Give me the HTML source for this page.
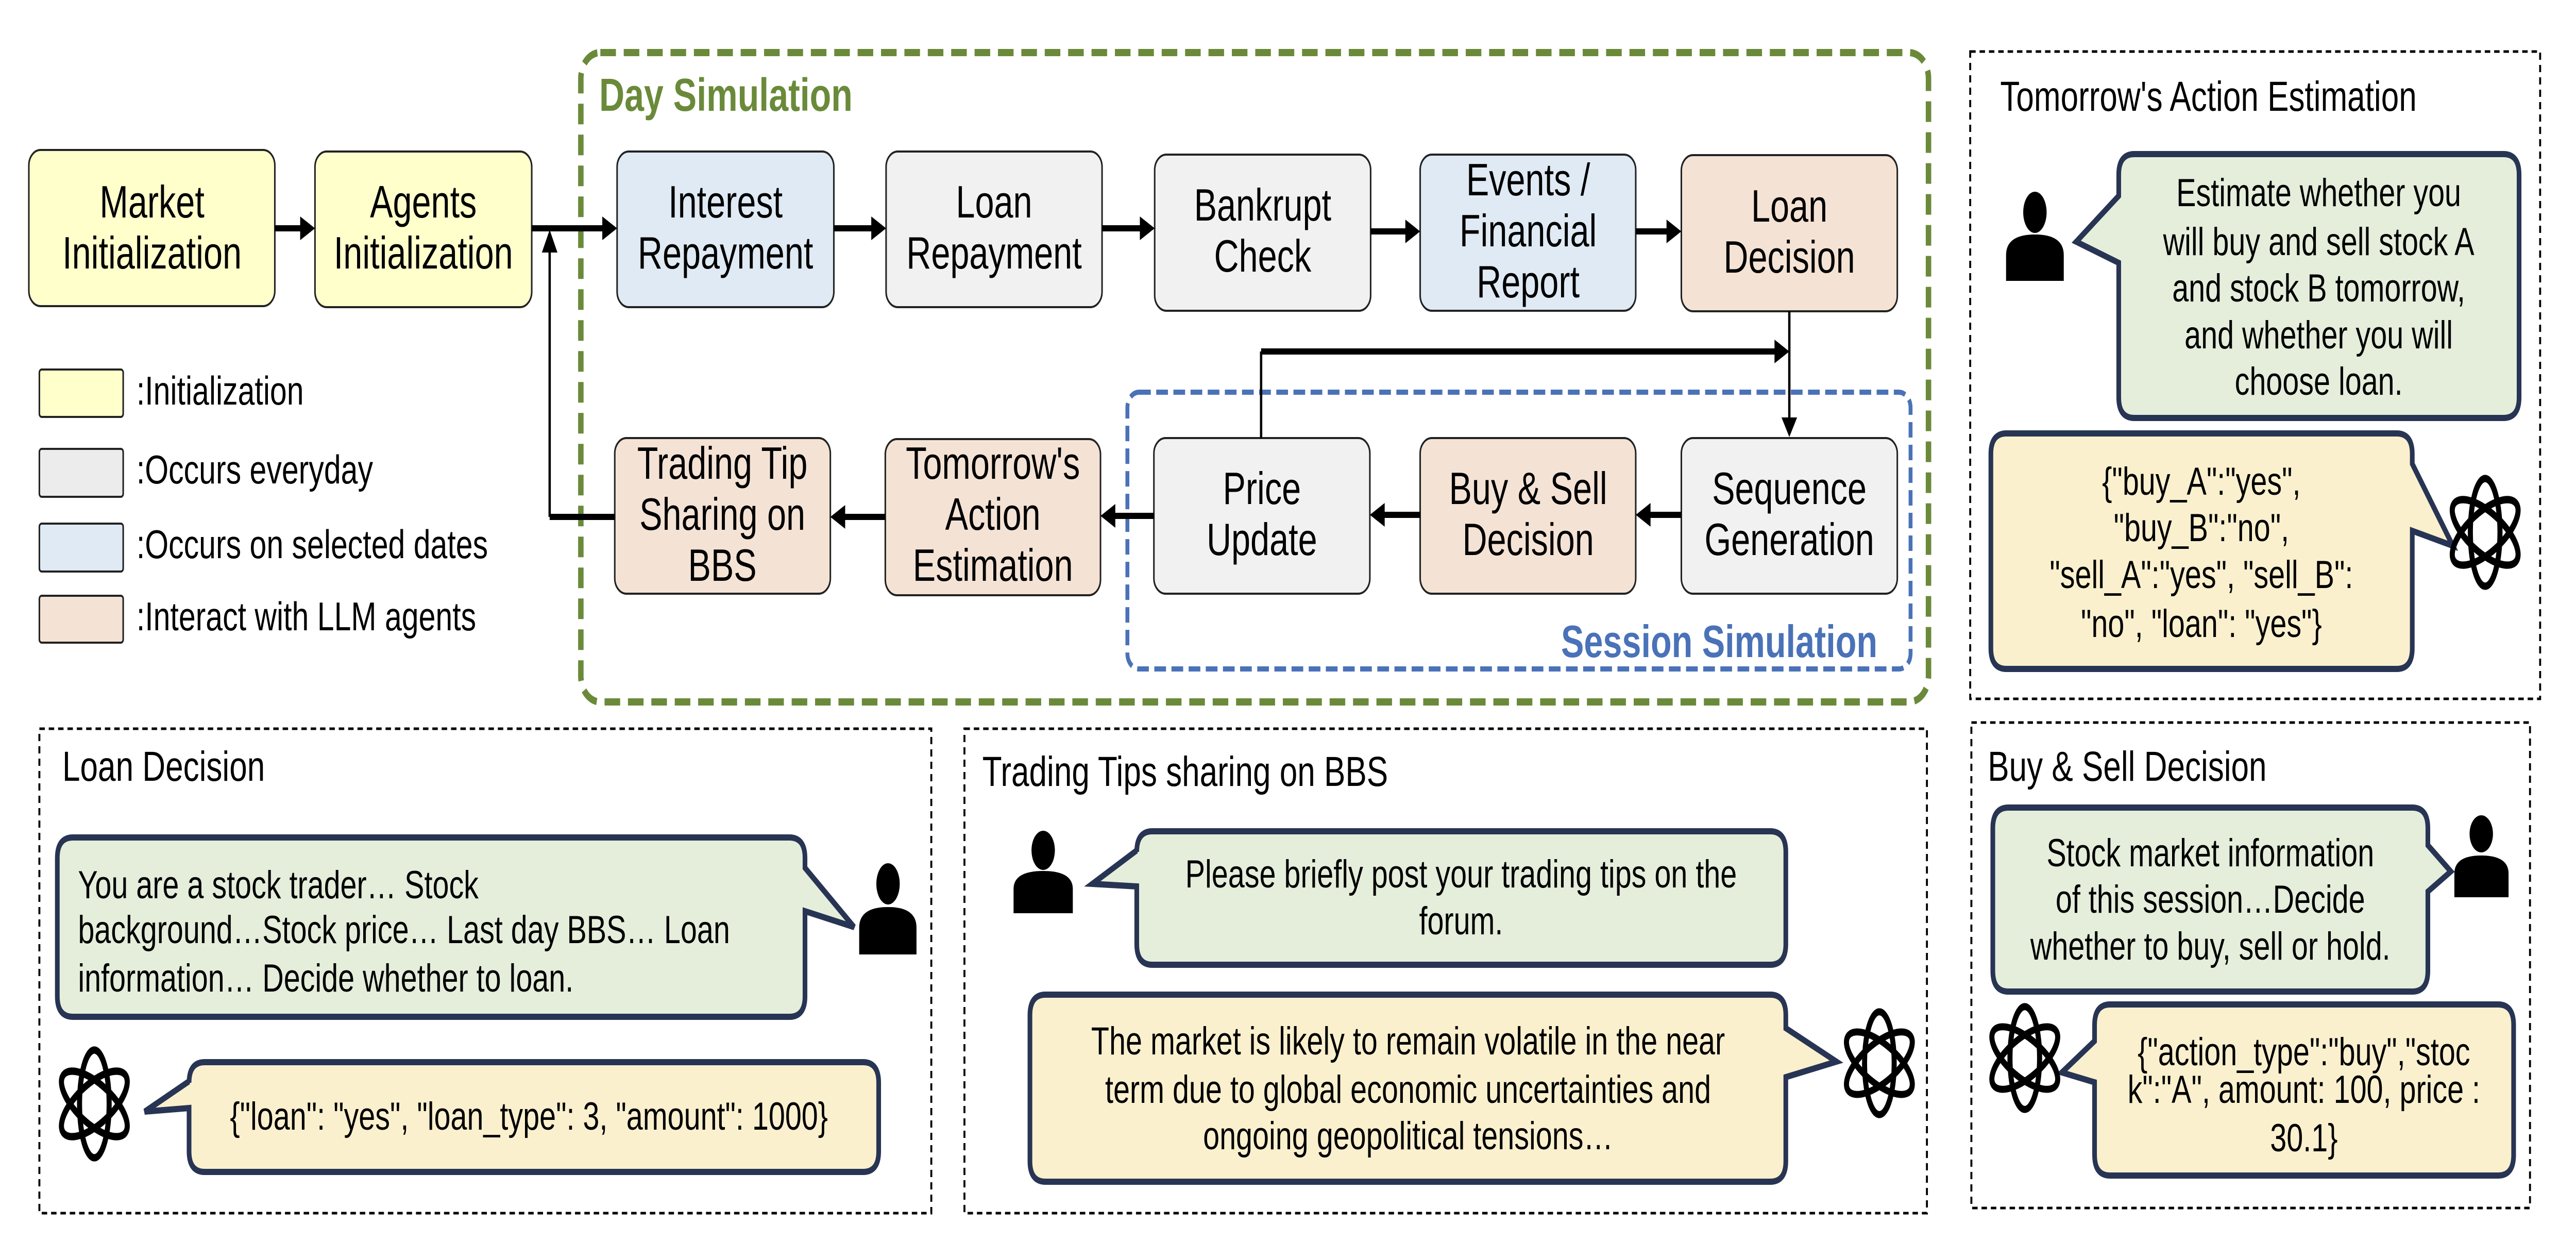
<!DOCTYPE html>
<html><head><meta charset="utf-8"><style>
html,body{margin:0;padding:0;background:#fff;width:100%;height:100%;overflow:hidden;}
svg{display:block;width:100vw;height:100vh;font-family:"Liberation Sans",sans-serif;}
</style></head><body>
<svg viewBox="0 0 6608 2441" preserveAspectRatio="none" xmlns="http://www.w3.org/2000/svg">
<defs>
<g id="gpt" fill="none" stroke="#000" stroke-width="13">
<ellipse cx="0" cy="0" rx="38" ry="95" transform="rotate(0)"/>
<ellipse cx="0" cy="0" rx="38" ry="95" transform="rotate(60)"/>
<ellipse cx="0" cy="0" rx="38" ry="95" transform="rotate(120)"/>
</g>
</defs>

<rect x="1490" y="102" width="3457" height="1260" rx="50" fill="none" stroke="#6a8a3a" stroke-width="14" stroke-dasharray="40 20"/>
<text x="1537" y="215" font-size="90" font-weight="bold" fill="#6a8a3a">Day Simulation</text>
<rect x="2892" y="761" width="2009" height="537" rx="30" fill="none" stroke="#4a72b8" stroke-width="10" stroke-dasharray="30 14"/>
<text x="4816" y="1275" font-size="88" font-weight="bold" fill="#4a72b8" text-anchor="end">Session Simulation</text>

<g stroke="#222" stroke-width="4">
<rect x="74" y="291" width="631" height="303" rx="30" fill="#ffffcc"/>
<rect x="808" y="294" width="556" height="302" rx="30" fill="#ffffcc"/>
<rect x="1583" y="294" width="556" height="302" rx="30" fill="#dfeaf4"/>
<rect x="2273" y="294" width="554" height="302" rx="30" fill="#f1f1f1"/>
<rect x="2962" y="300" width="554" height="303" rx="30" fill="#f1f1f1"/>
<rect x="3643" y="300" width="553" height="303" rx="30" fill="#dfeaf4"/>
<rect x="4313" y="301" width="554" height="303" rx="30" fill="#f4e3d5"/>
<rect x="1577" y="850" width="553" height="302" rx="30" fill="#f4e3d5"/>
<rect x="2271" y="852" width="552" height="303" rx="30" fill="#f4e3d5"/>
<rect x="2960" y="850" width="554" height="302" rx="30" fill="#f1f1f1"/>
<rect x="3643" y="850" width="553" height="302" rx="30" fill="#f4e3d5"/>
<rect x="4313" y="850" width="554" height="302" rx="30" fill="#f1f1f1"/>
<rect x="101" y="717" width="215" height="92" rx="6" fill="#ffffcc"/>
<rect x="101" y="871" width="215" height="93" rx="6" fill="#ececec"/>
<rect x="101" y="1016" width="215" height="93" rx="6" fill="#dfeaf4"/>
<rect x="101" y="1156" width="215" height="91" rx="6" fill="#f4e3d5"/>
</g>

<g font-size="88" text-anchor="middle" fill="#000">
<text x="390" y="422">Market</text><text x="390" y="521">Initialization</text>
<text x="1086" y="422">Agents</text><text x="1086" y="521">Initialization</text>
<text x="1861" y="422">Interest</text><text x="1861" y="521">Repayment</text>
<text x="2550" y="422">Loan</text><text x="2550" y="521">Repayment</text>
<text x="3239" y="428">Bankrupt</text><text x="3239" y="527">Check</text>
<text x="3920" y="379">Events /</text><text x="3920" y="478">Financial</text><text x="3920" y="577">Report</text>
<text x="4590" y="430">Loan</text><text x="4590" y="529">Decision</text>
<text x="1853" y="929">Trading Tip</text><text x="1853" y="1028">Sharing on</text><text x="1853" y="1127">BBS</text>
<text x="2547" y="929">Tomorrow's</text><text x="2547" y="1028">Action</text><text x="2547" y="1127">Estimation</text>
<text x="3237" y="978">Price</text><text x="3237" y="1077">Update</text>
<text x="3920" y="978">Buy &amp; Sell</text><text x="3920" y="1077">Decision</text>
<text x="4590" y="978">Sequence</text><text x="4590" y="1077">Generation</text>
</g>
<g font-size="78" fill="#000">
<text x="350" y="785">:Initialization</text>
<text x="350" y="938">:Occurs everyday</text>
<text x="350" y="1083">:Occurs on selected dates</text>
<text x="350" y="1223">:Interact with LLM agents</text>
</g>

<g stroke="#000" stroke-width="12" fill="none">
<line x1="705" y1="443" x2="780" y2="443"/>
<line x1="1364" y1="443" x2="1555" y2="443"/>
<line x1="2139" y1="443" x2="2245" y2="443"/>
<line x1="2827" y1="443" x2="2934" y2="443"/>
<line x1="3516" y1="449" x2="3615" y2="449"/>
<line x1="4196" y1="449" x2="4285" y2="449"/>
<line x1="3235" y1="682" x2="4562" y2="682"/>
<line x1="4313" y1="999" x2="4224" y2="999"/>
<line x1="3643" y1="999" x2="3542" y2="999"/>
<line x1="2960" y1="1001" x2="2851" y2="1001"/>
<line x1="2271" y1="1003" x2="2158" y2="1003"/>
<line x1="1577" y1="1003" x2="1410" y2="1003"/>
</g>
<g stroke="#000" stroke-width="6" fill="none">
<line x1="4590" y1="604" x2="4590" y2="820"/>
<line x1="3235" y1="682" x2="3235" y2="850"/>
<line x1="1410" y1="1003" x2="1410" y2="480"/>
</g>
<g fill="#000">
<polygon points="808,443 770,420 770,466"/>
<polygon points="1583,443 1545,420 1545,466"/>
<polygon points="2273,443 2235,420 2235,466"/>
<polygon points="2962,443 2924,420 2924,466"/>
<polygon points="3643,449 3605,426 3605,472"/>
<polygon points="4313,449 4275,426 4275,472"/>
<polygon points="4590,682 4552,659 4552,705"/>
<polygon points="4590,848 4570,810 4610,810"/>
<polygon points="4196,999 4234,976 4234,1022"/>
<polygon points="3514,999 3552,976 3552,1022"/>
<polygon points="2823,1001 2861,978 2861,1024"/>
<polygon points="2130,1003 2168,980 2168,1026"/>
<polygon points="1410,446 1390,490 1430,490"/>
</g>

<g fill="none" stroke="#000" stroke-width="5" stroke-dasharray="14 10">
<rect x="5054" y="100" width="1462" height="1256"/>
<rect x="101" y="1414" width="2288" height="940"/>
<rect x="2474" y="1414" width="2469" height="940"/>
<rect x="5057" y="1402" width="1433" height="942"/>
</g>
<g font-size="82" fill="#000">
<text x="5131" y="215">Tomorrow's Action Estimation</text>
<text x="160" y="1515">Loan Decision</text>
<text x="2520" y="1525">Trading Tips sharing on BBS</text>
<text x="5099" y="1515">Buy &amp; Sell Decision</text>
</g>

<g stroke="#283453" stroke-width="12">
<path fill="#e4eedb" d="M5475,299 H6422 Q6462,299 6462,339 V771 Q6462,811 6422,811 H5475 Q5435,811 5435,771 V510 L5326,469 L5435,380 V339 Q5435,299 5475,299 Z"/>
<path fill="#faf0ce" d="M5147,841 H6148 Q6188,841 6188,881 V900 L6292,1059 L6188,1030 V1258 Q6188,1298 6148,1298 H5147 Q5107,1298 5107,1258 V881 Q5107,841 5147,841 Z"/>
<path fill="#e4eedb" d="M187,1625 H2025 Q2065,1625 2065,1665 V1684 L2191,1799 L2065,1768 V1933 Q2065,1973 2025,1973 H187 Q147,1973 147,1933 V1665 Q147,1625 187,1625 Z"/>
<path fill="#faf0ce" d="M525,2061 H2214 Q2254,2061 2254,2101 V2234 Q2254,2274 2214,2274 H525 Q485,2274 485,2234 V2150 L371,2157 L485,2098 V2101 Q485,2061 525,2061 Z"/>
<path fill="#e4eedb" d="M2956,1613 H4541 Q4581,1613 4581,1653 V1832 Q4581,1872 4541,1872 H2956 Q2916,1872 2916,1832 V1720 L2802,1715 L2916,1650 V1653 Q2916,1613 2956,1613 Z"/>
<path fill="#faf0ce" d="M2682,1930 H4541 Q4581,1930 4581,1970 V1995 L4711,2060 L4581,2090 V2253 Q4581,2293 4541,2293 H2682 Q2642,2293 2642,2253 V1970 Q2642,1930 2682,1930 Z"/>
<path fill="#e4eedb" d="M5152,1567 H6188 Q6228,1567 6228,1607 V1640 L6287,1691 L6228,1730 V1884 Q6228,1924 6188,1924 H5152 Q5112,1924 5112,1884 V1607 Q5112,1567 5152,1567 Z"/>
<path fill="#faf0ce" d="M5413,1949 H6408 Q6448,1949 6448,1989 V2241 Q6448,2281 6408,2281 H5413 Q5373,2281 5373,2241 V2100 L5289,2081 L5373,2020 V1989 Q5373,1949 5413,1949 Z"/>
</g>

<g fill="#000">
<ellipse cx="5220" cy="412" rx="30" ry="40"/><path d="M5146,545 V495 Q5146,455 5220,455 Q5294,455 5294,495 V545 Z"/>
<ellipse cx="2278" cy="1715" rx="30" ry="40"/><path d="M2204,1852 V1800 Q2204,1760 2278,1760 Q2351,1760 2351,1800 V1852 Z"/>
<ellipse cx="2676" cy="1650" rx="30" ry="38"/><path d="M2600,1772 V1725 Q2600,1690 2676,1690 Q2752,1690 2752,1725 V1772 Z"/>
<ellipse cx="6365" cy="1618" rx="30" ry="36"/><path d="M6296,1741 V1695 Q6296,1660 6365,1660 Q6435,1660 6435,1695 V1741 Z"/>
</g>
<use href="#gpt" transform="translate(6375,1033) scale(1,1.1)"/>
<use href="#gpt" transform="translate(242,2142) scale(1,1.1)"/>
<use href="#gpt" transform="translate(4821,2063) scale(1,1.05)"/>
<use href="#gpt" transform="translate(5194,2053) scale(1,1.05)"/>

<g font-size="76" fill="#000" text-anchor="middle">
<text x="5948" y="400">Estimate whether you</text>
<text x="5948" y="495">will buy and sell stock A</text>
<text x="5948" y="585">and stock B tomorrow,</text>
<text x="5948" y="676">and whether you will</text>
<text x="5948" y="766">choose loan.</text>
<text x="5647" y="960">{"buy_A":"yes",</text>
<text x="5647" y="1050">"buy_B":"no",</text>
<text x="5647" y="1141">"sell_A":"yes", "sell_B":</text>
<text x="5647" y="1236">"no", "loan": "yes"}</text>
<text x="3748" y="1722">Please briefly post your trading tips on the</text>
<text x="3748" y="1813">forum.</text>
<text x="3612" y="2046">The market is likely to remain volatile in the near</text>
<text x="3612" y="2140">term due to global economic uncertainties and</text>
<text x="3612" y="2230">ongoing geopolitical tensions…</text>
<text x="5670" y="1681">Stock market information</text>
<text x="5670" y="1771">of this session…Decide</text>
<text x="5670" y="1862">whether to buy, sell or hold.</text>
<text x="5910" y="2067">{"action_type":"buy","stoc</text>
<text x="5910" y="2140">k":"A", amount: 100, price :</text>
<text x="5910" y="2234">30.1}</text>
</g>
<g font-size="76" fill="#000">
<text x="200" y="1743">You are a stock trader… Stock</text>
<text x="200" y="1830">background…Stock price… Last day BBS… Loan</text>
<text x="200" y="1924">information… Decide whether to loan.</text>
<text x="590" y="2192">{"loan": "yes", "loan_type": 3, "amount": 1000}</text>
</g>
</svg>
</body></html>
